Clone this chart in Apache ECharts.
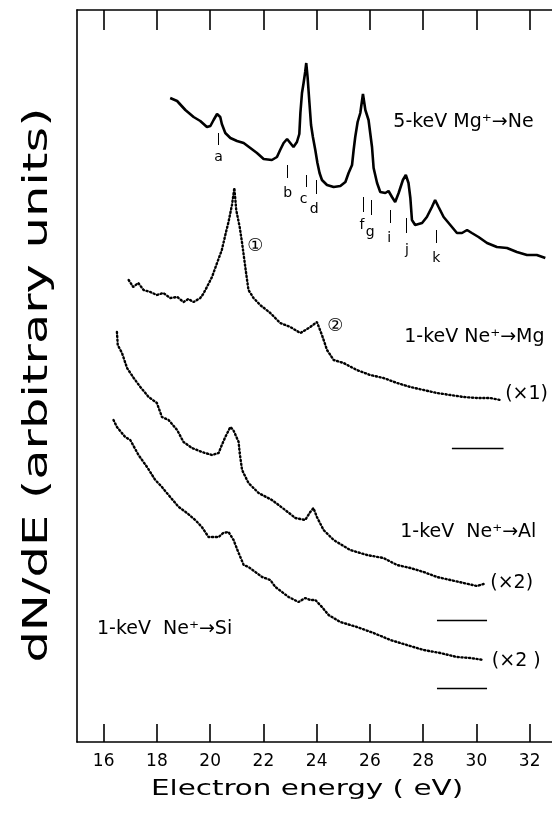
<!DOCTYPE html>
<html>
<head>
<meta charset="utf-8">
<script src="https://cdn.jsdelivr.net/npm/echarts@6/dist/echarts.min.js"></script>
<style>
  html, body { margin: 0; padding: 0; background: #fff; }
  #chart { width: 552px; height: 814px; }
</style>
</head>
<body>
<div id="chart"></div>
<script>
// Energy axis ticks (eV)
const energyTicks = [16, 18, 20, 22, 24, 26, 28, 30, 32];

// Spectra: [electron energy (eV), dN/dE (arbitrary units, curves offset vertically)]
const mgNe5keV = [
  [18.50, 64.4], [18.76, 64.1], [19.07, 63.2], [19.38, 62.5], [19.63, 62.1], [19.88, 61.5],
  [20.01, 61.6], [20.13, 62.2], [20.26, 62.8], [20.38, 62.5], [20.44, 61.8], [20.57, 60.9],
  [20.76, 60.4], [21.01, 60.1], [21.26, 59.9], [21.51, 59.4], [21.76, 58.9], [22.01, 58.3],
  [22.32, 58.2], [22.51, 58.5], [22.63, 59.2], [22.76, 59.9], [22.89, 60.3], [23.01, 59.9],
  [23.13, 59.5], [23.26, 60.0], [23.35, 60.8], [23.39, 62.9], [23.45, 64.9], [23.51, 65.9],
  [23.57, 67.0], [23.61, 67.9], [23.66, 66.5], [23.73, 63.9], [23.79, 61.7], [23.86, 60.5],
  [23.95, 59.2], [24.03, 57.9], [24.11, 56.9], [24.20, 56.2], [24.39, 55.7], [24.64, 55.5],
  [24.89, 55.6], [25.08, 56.0], [25.20, 56.9], [25.33, 57.7], [25.39, 59.2], [25.45, 60.5],
  [25.54, 62.0], [25.64, 62.9], [25.74, 64.8], [25.83, 63.2], [25.95, 62.2], [26.08, 59.5],
  [26.14, 57.4], [26.27, 55.9], [26.39, 55.0], [26.58, 54.9], [26.70, 55.1], [26.83, 54.5],
  [26.95, 54.0], [27.08, 54.9], [27.24, 56.2], [27.35, 56.7], [27.45, 55.9], [27.52, 54.4],
  [27.58, 52.2], [27.70, 51.7], [27.96, 51.9], [28.14, 52.5], [28.33, 53.5], [28.45, 54.2],
  [28.58, 53.5], [28.77, 52.5], [29.02, 51.7], [29.27, 50.9], [29.46, 50.9], [29.65, 51.2],
  [29.83, 50.9], [30.08, 50.5], [30.40, 49.9], [30.77, 49.5], [31.15, 49.4], [31.52, 49.0],
  [31.90, 48.7], [32.27, 48.7], [32.59, 48.4]
];

const neMg1keV = [
  [16.94, 46.2], [17.11, 45.5], [17.30, 45.9], [17.50, 45.2], [17.75, 45.0], [18.00, 44.7],
  [18.24, 44.9], [18.50, 44.4], [18.77, 44.5], [19.00, 44.0], [19.18, 44.3], [19.38, 44.0],
  [19.63, 44.4], [19.74, 44.8], [19.88, 45.5], [20.07, 46.5], [20.26, 47.9], [20.44, 49.2],
  [20.57, 50.7], [20.69, 52.0], [20.82, 53.7], [20.91, 55.4], [20.98, 53.2], [21.11, 51.5],
  [21.20, 49.9], [21.32, 47.5], [21.44, 45.2], [21.63, 44.4], [21.88, 43.7], [22.26, 42.9],
  [22.63, 41.9], [23.01, 41.5], [23.39, 40.9], [23.58, 41.2], [23.76, 41.5], [24.01, 42.0],
  [24.20, 40.7], [24.39, 39.2], [24.64, 38.2], [25.01, 37.9], [25.51, 37.2], [26.01, 36.7],
  [26.51, 36.4], [27.02, 35.9], [27.52, 35.5], [28.02, 35.2], [28.52, 34.9], [29.02, 34.7],
  [29.52, 34.5], [30.02, 34.4], [30.52, 34.4], [30.90, 34.2]
];

const neAl1keV = [
  [16.50, 41.0], [16.53, 39.7], [16.69, 38.9], [16.88, 37.4], [17.13, 36.4], [17.38, 35.5],
  [17.69, 34.5], [18.00, 33.9], [18.19, 32.5], [18.44, 32.2], [18.76, 31.2], [19.00, 30.0],
  [19.32, 29.4], [19.69, 29.0], [20.07, 28.7], [20.32, 28.9], [20.44, 29.7], [20.57, 30.5],
  [20.76, 31.5], [20.87, 31.2], [21.07, 30.0], [21.11, 28.9], [21.20, 27.2], [21.44, 25.9],
  [21.82, 24.9], [22.32, 24.2], [22.82, 23.2], [23.20, 22.4], [23.57, 22.2], [23.76, 23.0],
  [23.88, 23.4], [24.01, 22.5], [24.26, 21.2], [24.64, 20.2], [25.26, 19.2], [25.89, 18.7],
  [26.51, 18.4], [27.02, 17.7], [27.52, 17.4], [28.02, 17.0], [28.52, 16.5], [29.02, 16.2],
  [29.52, 15.9], [30.02, 15.6], [30.27, 15.8]
];

const neSi1keV = [
  [16.37, 32.2], [16.50, 31.5], [16.81, 30.5], [17.00, 30.2], [17.31, 28.7], [17.63, 27.5],
  [17.94, 26.2], [18.19, 25.5], [18.50, 24.5], [18.82, 23.5], [19.13, 22.9], [19.44, 22.2],
  [19.69, 21.5], [19.94, 20.5], [20.32, 20.5], [20.49, 20.9], [20.69, 21.0], [20.88, 20.2],
  [21.07, 18.9], [21.26, 17.7], [21.44, 17.5], [21.95, 16.5], [22.26, 16.2], [22.45, 15.5],
  [22.95, 14.5], [23.32, 14.0], [23.57, 14.4], [23.76, 14.2], [23.95, 14.2], [24.20, 13.5],
  [24.45, 12.7], [24.89, 12.0], [25.51, 11.5], [26.14, 10.9], [26.77, 10.2], [27.39, 9.7],
  [28.02, 9.2], [28.64, 8.9], [29.27, 8.5], [29.77, 8.4], [30.27, 8.2]
];

// Assigned transitions on the 5-keV spectrum: marker energy, marker span, letter position
const peakNames   = ['a', 'b', 'c', 'd', 'f', 'g', 'i', 'j', 'k'];
const peakEnergy  = [20.32, 22.89, 23.60, 23.97, 25.76, 26.04, 26.77, 27.35, 28.49];
const peakTickTop = [60.9, 57.7, 56.7, 56.2, 54.5, 54.2, 53.2, 52.4, 51.2];
const peakTickLow = [59.7, 56.4, 55.5, 54.8, 53.0, 52.7, 51.9, 50.9, 49.9];
const letterE     = [20.32, 22.91, 23.51, 23.91, 25.70, 26.01, 26.73, 27.39, 28.49];
const letterV     = [58.5, 54.9, 54.3, 53.3, 51.7, 51.0, 50.4, 49.2, 48.4];

// Zero-level bars for the 1-keV spectra: [from eV, to eV, level]
const zeroLevels = [[29.08, 31.02, 29.4], [28.52, 30.40, 12.2], [28.52, 30.40, 5.4]];

// Spectrum captions (left-anchored) and circled peak numbers (centered)
const captionText = ['5-keV Mg\u207A\u2192Ne', '1-keV Ne\u207A\u2192Mg', '(\u00D71)',
                     '1-keV  Ne\u207A\u2192Al', '(\u00D72)', '(\u00D72 )', '1-keV  Ne\u207A\u2192Si'];
const captionPos  = [[26.88, 62.0], [27.29, 40.5], [31.08, 34.8],
                     [27.14, 21.0], [30.52, 15.9], [30.58, 8.1], [15.75, 11.3]];
const circledText = ['\u2460', '\u2461'];
const circledPos  = [[21.70, 49.6], [24.70, 41.6]];

// Axis titles
const xTitle = 'Electron energy ( eV)';
const yTitle = 'dN/dE (arbitrary units)';

const FONT = '"DejaVu Sans", "Noto Sans CJK JP", sans-serif';
const chart = echarts.init(document.getElementById('chart'), null, { renderer: 'canvas' });

const dottedStyle = { color: '#000', width: 2.4, type: [1.2, 2.6], cap: 'round' };
const textSeries = (name, texts, pos, position, fontSize) => ({
  name, type: 'scatter', symbolSize: 0, silent: true,
  itemStyle: { opacity: 1 },
  data: texts.map((t, i) => ({ name: t, value: pos[i] })),
  label: { show: true, position, distance: 0, formatter: '{b}', color: '#000',
           fontSize, fontFamily: FONT }
});

chart.setOption({
  animation: false,
  backgroundColor: '#fff',
  grid: { left: 77, right: 0, top: 10, bottom: 72, containLabel: false, outerBoundsMode: 'none' },
  xAxis: [
    {
      type: 'value', min: 15, max: 32.84, position: 'bottom',
      axisLine: { show: true, onZero: false, lineStyle: { color: '#000', width: 1.6 } },
      axisTick: { show: true, inside: true, length: 18, customValues: energyTicks,
                  lineStyle: { color: '#000', width: 1.6 } },
      axisLabel: { show: true, customValues: energyTicks, color: '#000', fontSize: 17,
                   fontFamily: FONT, margin: 11 },
      splitLine: { show: false }
    },
    {
      type: 'value', min: 15, max: 32.84, position: 'top',
      axisLine: { show: true, onZero: false, lineStyle: { color: '#000', width: 1.6 } },
      axisTick: { show: true, inside: true, length: 20, customValues: energyTicks,
                  lineStyle: { color: '#000', width: 1.6 } },
      axisLabel: { show: false },
      splitLine: { show: false }
    }
  ],
  yAxis: {
    type: 'value', min: 0, max: 73.2,
    axisLine: { show: true, onZero: false, lineStyle: { color: '#000', width: 1.6 } },
    axisTick: { show: false },
    axisLabel: { show: false },
    splitLine: { show: false }
  },
  // Axis titles are set in a widely tracked typeface, so they are stretched along the text
  graphic: [
    {
      type: 'text', x: 307, y: 790, scaleX: 1.4, silent: true,
      style: { text: xTitle, fill: '#000', font: '21px ' + FONT, align: 'center', verticalAlign: 'middle' }
    },
    {
      type: 'text', x: 38, y: 385, rotation: Math.PI / 2, scaleX: 1.5, silent: true,
      style: { text: yTitle, fill: '#000', font: '33px ' + FONT, align: 'center', verticalAlign: 'middle' }
    }
  ],
  series: [
    {
      name: '5-keV Mg+ on Ne', type: 'line', data: mgNe5keV, showSymbol: false,
      lineStyle: { color: '#000', width: 2.6 },
      markLine: {
        silent: true, symbol: 'none', label: { show: false },
        lineStyle: { color: '#000', width: 1, type: 'solid' },
        data: peakEnergy.map((e, i) => [{ coord: [e, peakTickTop[i]] }, { coord: [e, peakTickLow[i]] }])
      }
    },
    { name: '1-keV Ne+ on Mg', type: 'line', data: neMg1keV, showSymbol: false, lineStyle: dottedStyle },
    { name: '1-keV Ne+ on Al', type: 'line', data: neAl1keV, showSymbol: false, lineStyle: dottedStyle },
    { name: '1-keV Ne+ on Si', type: 'line', data: neSi1keV, showSymbol: false, lineStyle: dottedStyle },
    {
      name: 'zero levels', type: 'line', data: [], showSymbol: false,
      markLine: {
        silent: true, symbol: 'none', label: { show: false },
        lineStyle: { color: '#000', width: 1.4, type: 'solid' },
        data: zeroLevels.map(z => [{ coord: [z[0], z[2]] }, { coord: [z[1], z[2]] }])
      }
    },
    textSeries('peak letters', peakNames, peakNames.map((n, i) => [letterE[i], letterV[i]]), 'inside', 14),
    textSeries('captions', captionText, captionPos, 'right', 19),
    textSeries('circled', circledText, circledPos, 'inside', 18)
  ]
});
</script>
</body>
</html>
